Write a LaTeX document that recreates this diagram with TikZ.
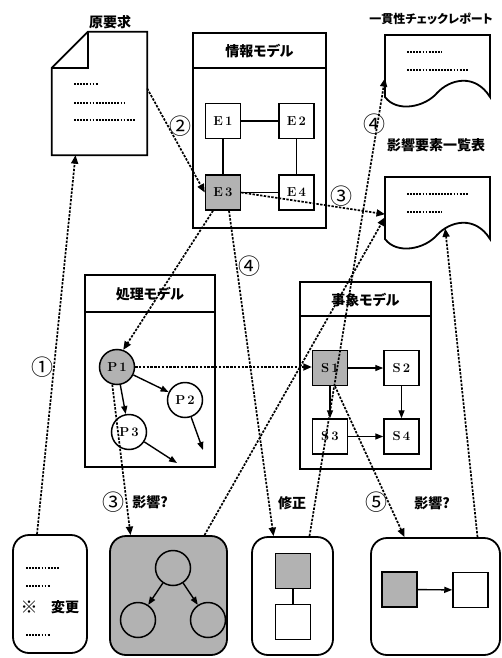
\documentclass[tikz,border=0pt]{standalone}
\usepackage{fontspec}
\usepackage{tikz}
\usetikzlibrary{arrows.meta, positioning}
\newfontfamily\jp{Noto Sans CJK JP}[RawFeature=+palt]

\begin{document}
\begin{tikzpicture}[x=1pt, y=-1pt,
  jtext/.style     = {font=\jp\bfseries\fontsize{14}{16}\selectfont, inner sep=1pt},
  num/.style       = {font=\jp\fontsize{22}{22}\selectfont, inner sep=0pt},
  frame/.style     = {rectangle, draw, line width=1.8pt, inner sep=0pt},
  ent/.style       = {rectangle, draw, line width=1.5pt, minimum size=35pt,
                      inner sep=0pt, fill=white, font=\fontsize{13}{13}\bfseries},
  hot/.style       = {ent, fill=black!30},
  bubble/.style    = {ent, circle},
  hotbubble/.style = {bubble, fill=black!30},
  outbox/.style    = {frame, rounded corners=16pt},
  link/.style      = {line width=1.4pt, -{Triangle[length=8pt,width=6pt]}},
  trace/.style     = {line width=1.7pt, dash pattern=on 2.4pt off 1.4pt,
                      -{Triangle[length=8.5pt,width=7pt]}},
  dots/.style      = {line width=1.2pt, dash pattern=on 1.8pt off 1.3pt}
]
\useasboundingbox (0,0) rectangle (502,658);

% ---------- requirement document ----------
\node[minimum width=95pt, minimum height=123pt, inner sep=0pt] (req) at (99.5,93.5) {};
\draw[line width=1.8pt] ([yshift=-36pt]req.north west) -- ([xshift=36pt]req.north west)
  -- (req.north east) -- (req.south east) -- (req.south west) -- cycle;
\draw[line width=1.8pt] ([xshift=36pt]req.north west) |- ([yshift=-36pt]req.north west);
\foreach \y/\l in {84/24, 103/50, 120/61}
  \draw[dots] (74,\y) -- ++(\l,0);
\node[jtext] (reqtitle) at (110,22) {原要求};

% ---------- reports ----------
\foreach \n/\y/\la/\lb in {chk/35/35/61, lst/177/61/35} {
  \begin{scope}[shift={(385,\y)}]
    \node[minimum width=105pt, minimum height=62pt, inner sep=0pt, anchor=north west]
      (\n) at (0,0) {};
    \draw[line width=1.8pt] (0,0) -- (105,0) -- (105,62)
      .. controls (90,38) and (65,44) .. (52,58)
      .. controls (40,72) and (12,78) .. (0,62) -- cycle;
    \draw[dots] (22,17) -- ++(\la,0);
    \draw[dots] (22,35) -- ++(\lb,0);
  \end{scope}
}
\node[jtext, font=\jp\bfseries\fontsize{12}{14}\selectfont] (chktitle) at (431,19) {一貫性チェックレポート};
\node[jtext] (lsttitle) at (436,145) {影響要素一覧表};

% ---------- information model ----------
\node[frame, minimum width=133pt, minimum height=195pt] (info) at (259.5,130.5) {};
\draw[line width=1.8pt] ([yshift=-36pt]info.north west) -- ([yshift=-36pt]info.north east);
\node[jtext] (infotitle) at (259.5,51) {情報モデル};
\node[ent] (E1) at (223,121) {E\,1};
\node[ent, right=37pt of E1] (E2) {E\,2};
\node[hot, below=35pt of E1] (E3) {E\,3};
\node[ent, right=37pt of E3] (E4) {E\,4};
\draw[line width=1.4pt] (E1) -- (E2) (E1) -- (E3) (E2) -- (E4) (E3) -- (E4);

% ---------- process model ----------
\node[frame, minimum width=130pt, minimum height=192pt] (flow) at (150,371) {};
\draw[line width=1.8pt] ([yshift=-38pt]flow.north west) -- ([yshift=-38pt]flow.north east);
\node[jtext] (flowtitle) at (150,294) {処理モデル};
\node[hotbubble] (P1) at (117,367) {P\,1};
\node[bubble]    (P2) at (185,400) {P\,2};
\node[bubble]    (P3) at (129,432) {P\,3};
\coordinate (p2out) at (203,450);
\coordinate (p3out) at (177,463);
\draw[link] (P1) -- (P2);
\draw[link] (P1) -- (P3);
\draw[link] (P2) -- (p2out);
\draw[link] (P3) -- (p3out);

% ---------- event model ----------
\node[frame, minimum width=131pt, minimum height=187pt] (event) at (365.5,375.5) {};
\draw[line width=1.8pt] ([yshift=-35pt]event.north west) -- ([yshift=-35pt]event.north east);
\node[jtext] (eventtitle) at (365.5,300) {事象モデル};
\node[hot] (S1) at (330,368) {S\,1};
\node[ent, right=35pt of S1] (S2) {S\,2};
\node[ent, below=32pt of S1] (S3) {S\,3};
\node[ent, right=35pt of S3] (S4) {S\,4};
\draw[link] (S1) -- (S2);
\draw[link] (S1) -- (S3);
\draw[link] (S2) -- (S4);
\draw[link] (S3) -- (S4);

% ---------- bottom boxes ----------
\node[outbox, minimum width=74pt, minimum height=118pt] (chg) at (50,594) {};
\foreach \y/\l in {568/34, 586/24, 635/24}
  \draw[dots] (26,\y) -- ++(\l,0);
\node[font=\jp\bfseries\fontsize{17}{17}\selectfont, inner sep=0pt] (mark) at (29,607) {※};
\node[jtext] (chgtext) at (65,607) {変更};

\node[outbox, fill=black!30, minimum width=117pt, minimum height=119pt] (imp) at (168.5,595.5) {};
\node[bubble, fill=none] (c1) at (173,568) {};
\node[bubble, fill=none] (c2) at (138,620) {};
\node[bubble, fill=none] (c3) at (208,620) {};
\draw[link] (c1) -- (c2);
\draw[link] (c1) -- (c3);
\node[jtext] (impnote) at (150,502) {影響?};

\node[outbox, minimum width=81pt, minimum height=118pt] (fix) at (292.5,596) {};
\node[hot] (fa) at (293,571) {};
\node[ent] (fb) at (293,622) {};
\draw[line width=1.4pt] (fa) -- (fb);
\node[jtext] (fixnote) at (292,503) {修正};

\node[outbox, minimum width=129pt, minimum height=117pt] (res) at (435.5,596.5) {};
\node[hot] (ra) at (399.5,589.5) {};
\node[ent] (rb) at (470.5,590) {};
\draw[link] (ra) -- (rb);
\node[jtext] (resnote) at (432,503) {影響?};

% ---------- traces ----------
\draw[trace] ([xshift=-13pt]chg.north) -- ([xshift=-24pt]req.south)
  node[num, pos=0.44, left=0pt] {①};
\draw[trace] ([yshift=5pt]req.east) -- (E3.west)
  node[num, pos=0.36, right=1pt] {②};
\draw[trace] (E3.east) -- ([yshift=-6pt]lst.west)
  node[num, pos=0.7, above=0pt] {③};
\draw[trace] ([xshift=-10pt]E3.south) -- (P1.70);
\draw[trace] ([xshift=6pt]E3.south) -- ([xshift=-19pt]fix.north)
  node[num, pos=0.17, right=1pt] {④};
\draw[trace] ([xshift=17pt]fix.north) -- ([yshift=-12pt]chk.west)
  node[num, pos=0.9, xshift=-3pt] {④};
\draw[trace] (P1.east) -- (P1.east -| S1.west);
\draw[trace] (P1.255) -- ([xshift=-38pt]imp.north)
  node[num, pos=0.78, left=1pt] {③};
\draw[trace] ([xshift=36pt]imp.north) -- ([yshift=-9pt]lst.west);
\draw[trace] ([xshift=5pt]S1.south) -- ([xshift=-31pt]res.north)
  node[num, pos=0.77, left=0pt] {⑤};
\draw[trace] ([xshift=42pt]res.north) -- ([xshift=7.5pt, yshift=11pt]lst.south);

\end{tikzpicture}
\end{document}
